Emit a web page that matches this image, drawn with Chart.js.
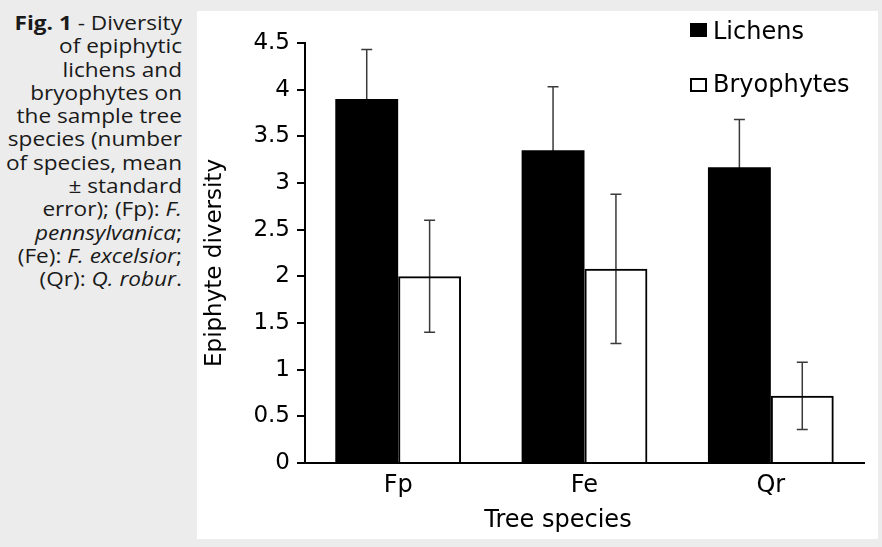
<!DOCTYPE html>
<html>
<head>
<meta charset="utf-8">
<script src="https://cdn.jsdelivr.net/npm/chart.js"></script>
<style>
  body {
    margin: 0;
    width: 882px;
    height: 547px;
    background: #ececec;
    position: relative;
    overflow: hidden;
  }
  .caption {
    position: absolute;
    left: 0;
    top: 11px;
    width: 182px;
    text-align: right;
    font-family: 'Open Sans', sans-serif;
    font-size: 20px;
    line-height: 23.3px;
    color: #1a1a1a;
    white-space: nowrap;
    transform: scaleX(1.13);
    transform-origin: right top;
  }
  .panel {
    position: absolute;
    left: 197px;
    top: 11px;
    width: 681px;
    height: 528px;
    background: #fff;
  }
  .key {
    position: absolute;
    font-family: 'DejaVu Sans', sans-serif;
    font-size: 24px;
    line-height: 28px;
    color: #000;
  }
  .swatch {
    position: absolute;
    width: 17px;
    height: 14px;
    box-sizing: border-box;
  }
</style>
</head>
<body>
<div class="caption">
  <b>Fig. 1</b> - Diversity<br>
  of epiphytic<br>
  lichens and<br>
  bryophytes on<br>
  the sample tree<br>
  species (number<br>
  of species, mean<br>
  ± standard<br>
  error); (Fp): <i>F.</i><br>
  <i>pennsylvanica</i>;<br>
  (Fe): <i>F. excelsior</i>;<br>
  (Qr): <i>Q. robur</i>.
</div>
<div class="panel">
  <canvas id="chart" width="681" height="528"></canvas>
</div>
<div class="swatch" style="left:690px; top:23px; background:#000;"></div>
<div class="key" style="left:713px; top:17px;">Lichens</div>
<div class="swatch" style="left:690px; top:78px; background:#fff; border:2px solid #000;"></div>
<div class="key" style="left:713px; top:70px;">Bryophytes</div>
<script>
const categories = ['Fp', 'Fe', 'Qr'];
const lichens = [3.9, 3.35, 3.17];
const lichensErr = [0.53, 0.68, 0.51];
const bryophytes = [2.0, 2.08, 0.72];
const bryophytesErr = [0.6, 0.8, 0.36];
const yTicks = [0, 0.5, 1, 1.5, 2, 2.5, 3, 3.5, 4, 4.5];
const yTitle = 'Epiphyte diversity';
const xTitle = 'Tree species';

Chart.defaults.font.family = "'DejaVu Sans', sans-serif";
Chart.defaults.color = '#000';

// error bars go under the bars, so the black bars hide the lower whisker
const errorBars = {
  id: 'errorBars',
  beforeDatasetsDraw(chart) {
    const ctx = chart.ctx;
    const y = chart.scales.y;
    ctx.save();
    ctx.strokeStyle = '#3a3a3a';
    ctx.lineWidth = 1.5;
    chart.data.datasets.forEach((ds, i) => {
      chart.getDatasetMeta(i).data.forEach((bar, j) => {
        const top = y.getPixelForValue(ds.data[j] + ds.errors[j]);
        const bot = y.getPixelForValue(ds.data[j] - ds.errors[j]);
        ctx.beginPath();
        ctx.moveTo(bar.x, top);
        ctx.lineTo(bar.x, bot);
        ctx.moveTo(bar.x - 5.5, top);
        ctx.lineTo(bar.x + 5.5, top);
        ctx.moveTo(bar.x - 5.5, bot);
        ctx.lineTo(bar.x + 5.5, bot);
        ctx.stroke();
      });
    });
    ctx.restore();
  }
};

const axisTitles = {
  id: 'axisTitles',
  afterDraw(chart) {
    const ctx = chart.ctx;
    const area = chart.chartArea;
    ctx.save();
    ctx.fillStyle = '#000';
    ctx.font = "23px 'DejaVu Sans', sans-serif";
    ctx.textAlign = 'center';
    ctx.textBaseline = 'alphabetic';
    ctx.translate(24, (area.top + area.bottom) / 2 + 10);
    ctx.rotate(-Math.PI / 2);
    ctx.fillText(yTitle, 0, 0);
    ctx.restore();

    ctx.save();
    ctx.fillStyle = '#000';
    ctx.font = "24px 'DejaVu Sans', sans-serif";
    ctx.textAlign = 'center';
    ctx.textBaseline = 'alphabetic';
    ctx.fillText(xTitle, area.left + (area.right - area.left) * 0.4526, area.bottom + 64);
    ctx.restore();
  }
};

new Chart(document.getElementById('chart'), {
  type: 'bar',
  data: {
    labels: categories,
    datasets: [
      {
        label: 'Lichens',
        data: lichens,
        errors: lichensErr,
        backgroundColor: '#000',
        borderWidth: 0
      },
      {
        label: 'Bryophytes',
        data: bryophytes,
        errors: bryophytesErr,
        backgroundColor: 'rgba(255,255,255,0)',
        borderColor: '#000',
        borderWidth: 2
      }
    ]
  },
  options: {
    responsive: false,
    animation: false,
    devicePixelRatio: 1,
    layout: { padding: { top: 32, right: 14, left: 0, bottom: 0 } },
    datasets: {
      bar: { barPercentage: 1, categoryPercentage: 0.675 }
    },
    plugins: {
      legend: { display: false },
      tooltip: { enabled: false }
    },
    scales: {
      x: {
        grid: { display: false, drawTicks: false },
        border: { display: true, color: '#000', width: 2 },
        ticks: { font: { size: 24 }, color: '#000', padding: 8 },
        afterFit: s => { s.height = 76; }
      },
      y: {
        min: 0,
        max: 4.5,
        afterBuildTicks: s => { s.ticks = yTicks.map(v => ({ value: v })); },
        grid: {
          display: true,
          drawOnChartArea: false,
          drawTicks: true,
          tickLength: 8,
          lineWidth: 2,
          color: '#000'
        },
        border: { display: true, color: '#000', width: 2 },
        ticks: {
          font: { size: 23 },
          color: '#000',
          padding: 7,
          callback: v => String(v)
        },
        afterFit: s => { s.width = 108; }
      }
    }
  },
  plugins: [errorBars, axisTitles]
});
</script>
</body>
</html>
